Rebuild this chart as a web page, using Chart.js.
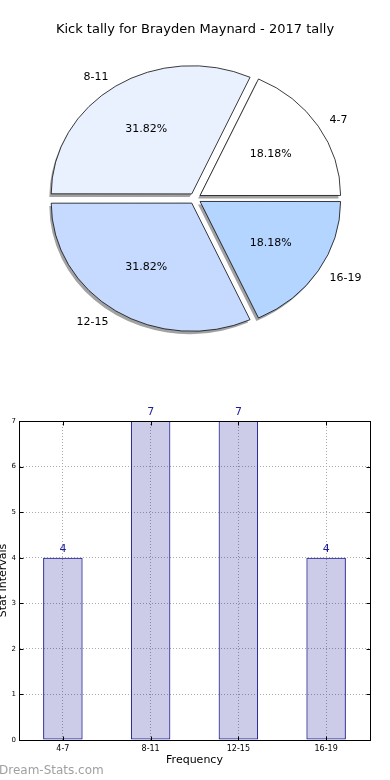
<!DOCTYPE html>
<html>
<head>
<meta charset="utf-8">
<title>Kick tally</title>
<script src="https://cdn.jsdelivr.net/npm/chart.js@4.4.1/dist/chart.umd.min.js"></script>
<style>
  html, body { margin: 0; padding: 0; background: #fff; }
  body { width: 390px; height: 780px; position: relative; overflow: hidden; font-family: "DejaVu Sans", sans-serif; }
  #pie { position: absolute; left: 0; top: 0; }
  #bar { position: absolute; left: -6px; top: 400px; }
  #mark { position: absolute; left: -1px; top: 763px; font-size: 12px; line-height: 14px; color: #a0a0a0; }
</style>
</head>
<body>
<canvas id="pie" width="390" height="360"></canvas>
<canvas id="bar" width="396" height="380"></canvas>
<div id="mark">Dream-Stats.com</div>
<script>
// données
const categories = ['4-7', '8-11', '12-15', '16-19'];
const counts = [4, 7, 7, 4];
const pieColors = ['#ffffff', '#e9f0fe', '#c6d9fe', '#b3d5ff'];
const yMax = 7;
const chartTitle = 'Kick tally for Brayden Maynard - 2017 tally';

Chart.defaults.font.family = '"DejaVu Sans", sans-serif';
Chart.defaults.color = '#000';

// ---------- camembert ----------
const SY = 0.912; // le camembert est un peu aplati (ellipse)

function ellipse(ctx, chart) {
  const a = chart.chartArea;
  const cx = (a.left + a.right) / 2, cy = (a.top + a.bottom) / 2;
  ctx.translate(cx, cy);
  ctx.scale(1, SY);
  ctx.translate(-cx, -cy);
}

const pieShape = {
  id: 'pieShape',
  beforeDatasetsDraw(chart) {
    const ctx = chart.ctx;
    // ombres : copie grise décalée, sous toutes les parts
    ctx.save();
    ctx.translate(-2, 3);
    ellipse(ctx, chart);
    ctx.fillStyle = 'rgba(70,70,70,0.5)';
    chart.getDatasetMeta(0).data.forEach(arc => {
      const mid = (arc.startAngle + arc.endAngle) / 2;
      const off = (arc.options.offset || 0) / 4;
      const x = arc.x + off * Math.cos(mid), y = arc.y + off * Math.sin(mid);
      ctx.beginPath();
      ctx.moveTo(x, y);
      ctx.arc(x, y, arc.outerRadius + 0.4, arc.startAngle, arc.endAngle);
      ctx.closePath();
      ctx.fill();
    });
    ctx.restore();
    ctx.save();
    ellipse(ctx, chart);
  },
  afterDatasetsDraw(chart) {
    const ctx = chart.ctx;
    ctx.restore();
    const meta = chart.getDatasetMeta(0);
    const data = chart.data.datasets[0].data;
    const total = data.reduce((s, v) => s + v, 0);
    ctx.save();
    ctx.font = '11px "DejaVu Sans"';
    ctx.fillStyle = '#000';
    ctx.textBaseline = 'middle';
    meta.data.forEach((arc, i) => {
      const mid = (arc.startAngle + arc.endAngle) / 2;
      const off = (arc.options.offset || 0) / 4;
      const r = arc.outerRadius;
      const pos = k => ({
        x: arc.x + (off + k * r) * Math.cos(mid),
        y: arc.y + (off + k * r) * Math.sin(mid) * SY
      });
      const p = pos(0.6);
      ctx.textAlign = 'center';
      ctx.fillText((data[i] / total * 100).toFixed(2) + '%', p.x, p.y);
      const l = pos(1.1);
      ctx.textAlign = Math.cos(mid) > 0 ? 'left' : 'right';
      ctx.fillText(chart.data.labels[i], l.x, l.y + 1);
    });
    ctx.restore();
  }
};

// Chart.js tourne dans le sens horaire : on inverse l'ordre
new Chart(document.getElementById('pie'), {
  type: 'pie',
  data: {
    labels: categories.slice().reverse(),
    datasets: [{
      data: counts.slice().reverse(),
      backgroundColor: pieColors.slice().reverse(),
      borderColor: '#000',
      borderWidth: 0.8,
      offset: 24,
      hoverOffset: 0,
      radius: 140
    }]
  },
  options: {
    responsive: false,
    animation: false,
    rotation: 90,
    layout: { padding: { top: 0, bottom: 10.6, left: 0, right: 0 } },
    plugins: {
      legend: { display: false },
      tooltip: { enabled: false },
      title: {
        display: true,
        text: chartTitle,
        color: '#000',
        font: { size: 13, weight: 'normal' },
        padding: { top: 22, bottom: 10 }
      }
    }
  },
  plugins: [pieShape]
});

// ---------- histogramme ----------
const frame = {
  id: 'frame',
  afterDatasetsDraw(chart) {
    const ctx = chart.ctx, a = chart.chartArea;
    const l = Math.round(a.left) + 0.5, r = Math.round(a.right) + 0.5;
    const t = Math.round(a.top) + 0.5, b = Math.round(a.bottom) + 0.5;
    ctx.save();
    ctx.strokeStyle = '#000';
    ctx.lineWidth = 1;
    ctx.strokeRect(l, t, r - l, b - t);
    ctx.beginPath();
    chart.scales.y.ticks.forEach(tk => {
      const y = Math.round(chart.scales.y.getPixelForValue(tk.value)) + 0.5;
      ctx.moveTo(l, y); ctx.lineTo(l + 4, y);
      ctx.moveTo(r, y); ctx.lineTo(r - 4, y);
    });
    chart.scales.x.ticks.forEach((tk, i) => {
      const x = Math.round(chart.scales.x.getPixelForTick(i)) + 0.5;
      ctx.moveTo(x, b); ctx.lineTo(x, b - 4);
      ctx.moveTo(x, t); ctx.lineTo(x, t + 4);
    });
    ctx.stroke();

    // valeurs au-dessus des barres
    ctx.font = '11px "DejaVu Sans"';
    ctx.fillStyle = '#1c1c9c';
    ctx.textAlign = 'center';
    ctx.textBaseline = 'bottom';
    const ds = chart.data.datasets[0].data;
    chart.getDatasetMeta(0).data.forEach((bar, i) => {
      ctx.fillText(String(ds[i]), bar.x, bar.y - 3);
    });
    ctx.restore();
  }
};

new Chart(document.getElementById('bar'), {
  type: 'bar',
  data: {
    labels: categories,
    datasets: [{
      data: counts,
      backgroundColor: 'rgba(0,0,139,0.2)',
      borderColor: '#14148c',
      borderWidth: 1,
      borderSkipped: false,
      barPercentage: 0.45,
      categoryPercentage: 1
    }]
  },
  options: {
    responsive: false,
    animation: false,
    layout: { padding: { top: 21, right: 20, bottom: 13, left: 0 } },
    plugins: { legend: { display: false }, tooltip: { enabled: false } },
    scales: {
      x: {
        grid: { offset: false, color: '#aaa', drawTicks: false },
        border: { color: '#000', dash: [1, 2] },
        ticks: { font: { size: 8 }, color: '#000', padding: 4 },
        title: { display: true, text: 'Frequency', color: '#000', font: { size: 11 }, padding: { top: 0, bottom: 0 } },
        afterFit: s => { s.height = 27; }
      },
      y: {
        min: 0,
        max: yMax,
        grid: { color: '#aaa', drawTicks: false },
        border: { color: '#000', dash: [1, 2] },
        ticks: { stepSize: 1, font: { size: 7 }, color: '#000', padding: 3 },
        title: { display: true, text: 'Stat Intervals', color: '#000', font: { size: 11 }, padding: { top: 3, bottom: 0 } },
        afterFit: s => { s.width = 25; }
      }
    }
  },
  plugins: [frame]
});
</script>
</body>
</html>
